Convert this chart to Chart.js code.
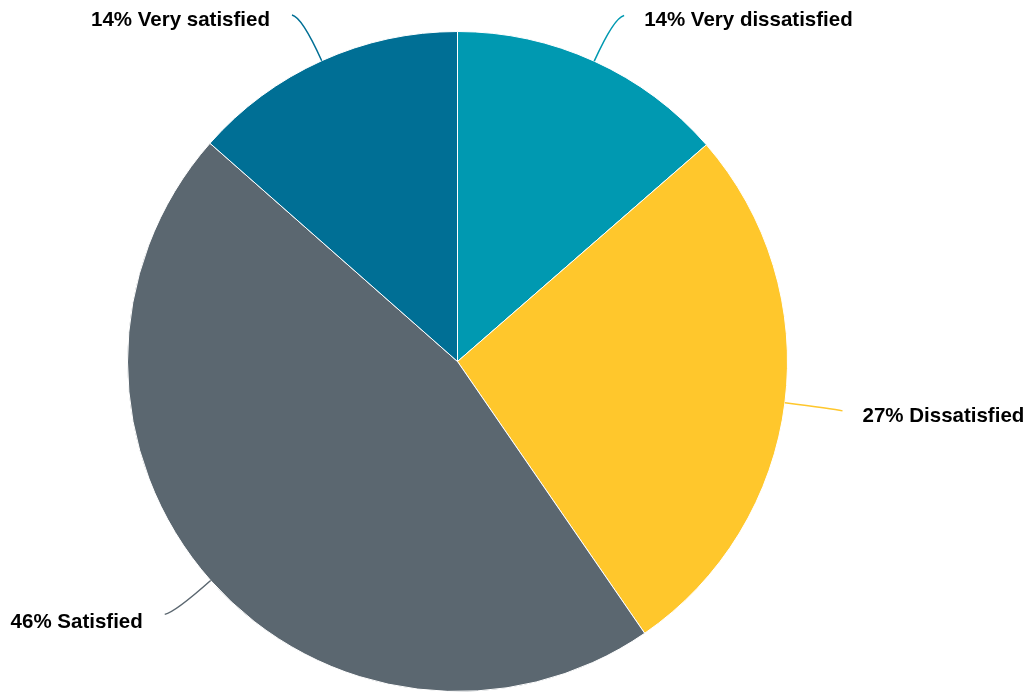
<!DOCTYPE html>
<html>
<head>
<meta charset="utf-8">
<script src="https://cdn.jsdelivr.net/npm/chart.js@4/dist/chart.umd.min.js"></script>
<style>
  html, body { margin: 0; padding: 0; background: #fff; }
  #wrap { width: 1029px; height: 694px; position: relative; }
</style>
</head>
<body>
<div id="wrap"><canvas id="myChart"></canvas></div>
<script>
const categories = ["Very dissatisfied", "Dissatisfied", "Satisfied", "Very satisfied"];
const shares = [13.6, 26.8, 46.1, 13.5];
const sliceColors = ["#0099b1", "#ffc72c", "#5b6770", "#006f95"];

// labels with curved leader lines outside the pie
const leaderLabels = {
  id: "leaderLabels",
  afterDraw(chart) {
    const { ctx } = chart;
    const arcs = chart.getDatasetMeta(0).data;
    ctx.save();
    ctx.font = "bold 20.5px 'Liberation Sans', Arial, sans-serif";
    ctx.fillStyle = "#000";
    ctx.textBaseline = "middle";
    arcs.forEach((arc, i) => {
      const mid = (arc.startAngle + arc.endAngle) / 2;
      const cx = Math.cos(mid);
      const cy = Math.sin(mid);
      const r = arc.outerRadius;
      const x0 = arc.x + cx * r;
      const y0 = arc.y + cy * r;
      const x1 = arc.x + cx * (r + 48);
      const y1 = arc.y + cy * (r + 48);
      const right = cx >= 0;
      const x2 = x1 + (right ? 10 : -10);
      const y2 = y1 + (cy < 0 ? -2 : 2);
      ctx.strokeStyle = sliceColors[i];
      ctx.lineWidth = 1.5;
      ctx.beginPath();
      ctx.moveTo(x0, y0);
      ctx.quadraticCurveTo(x1, y1, x2, y2);
      ctx.stroke();
      ctx.textAlign = right ? "left" : "right";
      const txt = `${Math.round(shares[i])}% ${categories[i]}`;
      ctx.fillText(txt, x2 + (right ? 20 : -22), y2 + (cy > 0.5 ? 8 : 5));
    });
    ctx.restore();
  },
};

const chart = new Chart(document.getElementById("myChart").getContext("2d"), {
  type: "pie",
  data: {
    labels: categories,
    datasets: [{
      data: shares,
      backgroundColor: sliceColors,
      borderColor: "#fff",
      borderWidth: 1,
    }],
  },
  options: {
    responsive: true,
    maintainAspectRatio: false,
    animation: false,
    layout: { padding: { left: 126, right: 240, top: 31, bottom: 2 } },
    plugins: {
      legend: { display: false },
      tooltip: { enabled: false },
    },
  },
  plugins: [leaderLabels],
});
</script>
</body>
</html>
